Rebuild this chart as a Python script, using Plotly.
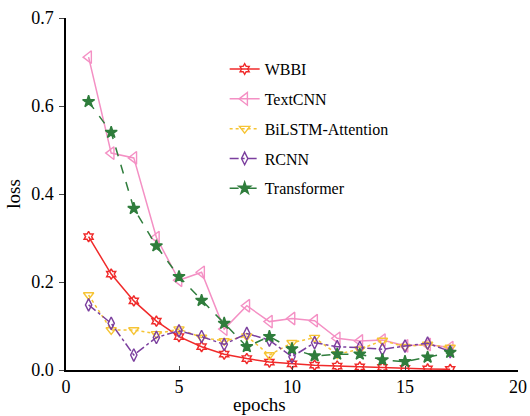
import plotly.graph_objects as go

epochs = list(range(1, 18))
wbbi = [0.303, 0.218, 0.157, 0.111, 0.076, 0.053, 0.036, 0.026, 0.018, 0.014, 0.011, 0.009, 0.007, 0.006, 0.004, 0.0025, 0.0015]
textcnn = [0.711, 0.493, 0.482, 0.301, 0.204, 0.222, 0.093, 0.146, 0.110, 0.117, 0.112, 0.072, 0.066, 0.068, 0.055, 0.058, 0.051]
bilstm = [0.1705, 0.091, 0.091, 0.082, 0.093, 0.074, 0.066, 0.077, 0.034, 0.062, 0.0735, 0.036, 0.047, 0.067, 0.053, 0.058, 0.051]
rcnn = [0.148, 0.106, 0.034, 0.074, 0.089, 0.076, 0.058, 0.083, 0.068, 0.030, 0.062, 0.053, 0.051, 0.047, 0.0545, 0.061, 0.042]
transformer = [0.610, 0.540, 0.367, 0.282, 0.212, 0.158, 0.106, 0.053, 0.076, 0.048, 0.032, 0.036, 0.036, 0.023, 0.019, 0.029, 0.040]

y_tickvals = [0.0, 0.2, 0.4, 0.6, 0.8]
y_ticktext = ["0.0", "0.2", "0.4", "0.6", "0.7"]
x_tickvals = [0, 5, 10, 15, 20]

FONT = "Liberation Serif, Times New Roman, serif"

series = [
    ("WBBI", wbbi, "#f02a2a", "solid", "hexagram-open", 8),
    ("TextCNN", textcnn, "#f490c4", "solid", "triangle-left-open", 11),
    ("BiLSTM-Attention", bilstm, "#f6c434", "dot", "triangle-down-open", 9),
    ("RCNN", rcnn, "#7b3f9e", "dashdot", "diamond-tall-open", 9),
    ("Transformer", transformer, "#2f7d3c", "dash", "star", 9),
]

fig = go.Figure()
for i, (name, vals, color, dash, sym, size) in enumerate(series):
    fig.add_trace(go.Scatter(
        x=epochs, y=vals, name=name, mode="lines+markers",
        legendgroup=f"g{i}",
        line=dict(color=color, width=1.5, dash=dash),
        marker=dict(symbol=sym, size=size, color=color,
                    line=dict(color=color, width=1.4)),
    ))

fig.update_layout(
    width=530, height=416,
    margin=dict(l=66, r=12, t=18, b=46),
    plot_bgcolor="white", paper_bgcolor="white",
    font=dict(family=FONT, size=18, color="black"),
    showlegend=True,
    legend=dict(
        x=0.351, y=0.903, xanchor="left", yanchor="top",
        font=dict(family=FONT, size=16, color="black"),
        bgcolor="rgba(0,0,0,0)", tracegroupgap=6,
        itemwidth=30,
    ),
    annotations=[dict(
        text="epochs", xref="paper", yref="paper",
        x=0.427, y=-0.098, xanchor="center", yanchor="middle",
        showarrow=False, font=dict(family=FONT, size=19, color="black"),
    )],
)
fig.update_xaxes(
    range=[0, 20], tickvals=x_tickvals, ticks="inside", ticklen=4,
    showline=True, linecolor="black", linewidth=1.5, showgrid=False,
    zeroline=False, mirror=False, automargin=False,
)
fig.update_yaxes(
    range=[0, 0.8], tickvals=y_tickvals, ticktext=y_ticktext,
    ticks="outside", ticklen=5, showline=True, linecolor="black",
    linewidth=1.5, showgrid=False, zeroline=False, mirror=False,
    ticklabelstandoff=2, automargin=False,
    title=dict(text="loss", standoff=6, font=dict(size=19)),
)

fig.write_html(
    "out.html",
    config={"displayModeBar": False},
    post_script="document.body.style.margin='0';document.body.style.overflow='hidden';",
)
